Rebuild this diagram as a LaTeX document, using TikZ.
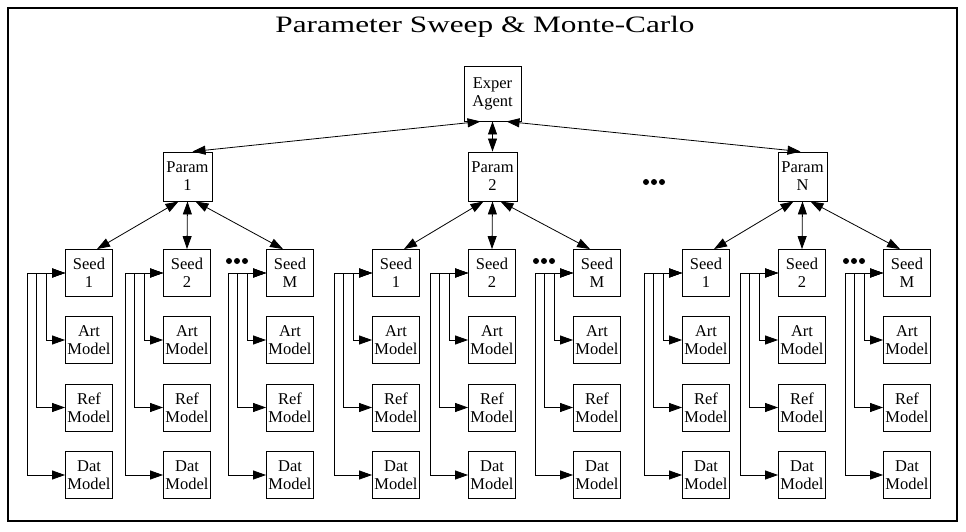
\documentclass[tikz,border=0pt]{standalone}
\usepackage{fontspec}
\setmainfont{Liberation Serif}
\newfontfamily\titlefont[FakeStretch=1.33]{Liberation Serif}
\usetikzlibrary{arrows.meta}
\begin{document}
\begin{tikzpicture}[x=1pt,y=-1pt,
  box/.style={draw, line width=0.9pt, inner sep=0pt, align=center, font=\fontsize{16.5}{18}\selectfont},
  leaf/.style={box, minimum width=47pt, minimum height=47pt},
  pbox/.style={box, minimum width=49pt, minimum height=49pt},
  link/.style={line width=0.8pt, {Triangle[length=13pt,width=9pt]}-{Triangle[length=13pt,width=9pt]}},
  dotfill/.style={fill=black}]
\useasboundingbox (0,0) rectangle (966,532);
\draw[line width=1.5pt] (8,8) rectangle (957,521);
\node[font=\titlefont\fontsize{23.5}{26}\selectfont, anchor=base, inner sep=0pt] (title) at (485,33) {Parameter Sweep \& Monte-Carlo};
\node[box, minimum width=57pt, minimum height=55pt] (exp) at (492.5,93.5) {Exper\\Agent};
\foreach \g/\px/\pl/\xa/\xb/\xc in {1/187.5/1/89/187/290, 2/492.5/2/396/492/597, 3/802.5/N/706/802/907} {
  \node[pbox] (p\g) at (\px,176.5) {Param\\\pl};
  \foreach \s/\sx/\sl in {1/\xa/1, 2/\xb/2, 3/\xc/M} {
    \node[leaf] (s\g\s) at (\sx,273) {Seed\\\sl};
    \node[leaf] (a\g\s) at (\sx,340) {Art\\Model};
    \node[leaf] (r\g\s) at (\sx,407.5) {Ref\\Model};
    \node[leaf] (d\g\s) at (\sx,475) {Dat\\Model};
    \draw[link] (s\g\s.west) -- ({\sx-62},273) |- (d\g\s.west);
    \draw[link] (s\g\s.west) -- ({\sx-52.5},273) |- (r\g\s.west);
    \draw[link] (s\g\s.west) -- ({\sx-43},273) |- (a\g\s.west);
  }
  \draw[link] ([xshift=-9pt]p\g.south) -- ([xshift=8pt]s\g1.north);
  \draw[link] (p\g.south) -- (s\g2.north);
  \draw[link] ([xshift=8pt]p\g.south) -- ([xshift=-7pt]s\g3.north);
  \foreach \k in {-8,0,8} \fill[dotfill] ({\xc-53+\k},261) circle (3pt);
}
\draw[link] ([xshift=-12pt]exp.south) -- ([xshift=5pt]p1.north);
\draw[link] (exp.south) -- (p2.north);
\draw[link] ([xshift=14pt]exp.south) -- ([xshift=-2pt]p3.north);
\foreach \k in {-8,0,8} \fill[dotfill] ({654+\k},182) circle (3pt);
\end{tikzpicture}
\end{document}
